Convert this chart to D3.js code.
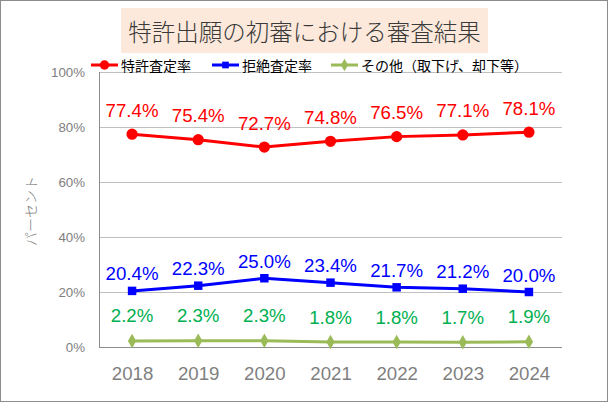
<!DOCTYPE html>
<html>
<head>
<meta charset="utf-8">
<script src="https://cdn.jsdelivr.net/npm/d3@7"></script>
<style>
  body { margin: 0; background: #fff; }
  svg { display: block; }
</style>
</head>
<body>
<div id="vis"></div>
<script>
// chart data
const years = ['2018', '2019', '2020', '2021', '2022', '2023', '2024']
const grantRate = [77.4, 75.4, 72.7, 74.8, 76.5, 77.1, 78.1]
const rejectRate = [20.4, 22.3, 25.0, 23.4, 21.7, 21.2, 20.0]
const otherRate = [2.2, 2.3, 2.3, 1.8, 1.8, 1.7, 1.9]
const yTicks = [0, 20, 40, 60, 80, 100]
const seriesNames = ['特許査定率', '拒絶査定率', 'その他（取下げ、却下等）']

const W = 609, H = 403
const margin = { top: 72, right: 47, bottom: 56, left: 99 }
const width = W - margin.left - margin.right   // 463
const height = H - margin.top - margin.bottom  // 275

const jp = '"Noto Sans CJK JP", "Noto Sans", sans-serif'
const num = '"Liberation Sans", Arial, sans-serif'

const root = d3.select('#vis').append('svg')
    .attr('width', W)
    .attr('height', H)

// outer border
root.append('rect')
    .attr('x', 0.5).attr('y', 0.5)
    .attr('width', 607).attr('height', 401)
    .attr('fill', '#fff')
    .attr('stroke', '#8c8c8c')

// title box
root.append('rect')
    .attr('x', 121).attr('y', 8)
    .attr('width', 367).attr('height', 45)
    .attr('fill', '#fce9db')
root.append('text')
    .attr('x', 304.5).attr('y', 31)
    .attr('text-anchor', 'middle')
    .attr('dominant-baseline', 'central')
    .style('font-family', jp)
    .style('font-size', '23.5px')
    .style('font-weight', 300)
    .style('fill', '#3a3a3a')
    .text('特許出願の初審における審査結果')

const svg = root.append('g')
    .attr('transform', `translate(${margin.left},${margin.top})`)

const xScale = d3.scalePoint()
    .domain(years)
    .range([0, width])
    .padding(0.5)

const yScale = d3.scaleLinear()
    .domain([0, 100])
    .range([height, 0])

// gridlines
svg.selectAll('.grid')
    .data(yTicks.filter(d => d > 0))
    .join('line')
    .attr('class', 'grid')
    .attr('x1', 0).attr('x2', width)
    .attr('y1', d => Math.round(yScale(d)) + 0.5)
    .attr('y2', d => Math.round(yScale(d)) + 0.5)
    .attr('stroke', '#c0c0c0')
    .attr('stroke-width', 1)

// y axis
const yAxis = d3.axisLeft(yScale)
    .tickValues(yTicks)
    .tickSize(0)
    .tickPadding(14)
    .tickFormat(d => d + '%')
svg.append('g')
    .call(yAxis)
    .call(g => g.select('.domain').remove())
    .call(g => g.selectAll('text')
        .style('font-family', num)
        .style('font-size', '13.3px')
        .style('fill', '#808080'))

// x axis
const xAxis = d3.axisBottom(xScale).tickSize(0).tickPadding(20)
svg.append('g')
    .attr('transform', `translate(0,${height})`)
    .call(xAxis)
    .call(g => g.select('.domain').remove())
    .call(g => g.selectAll('text')
        .style('font-family', num)
        .style('font-size', '18.67px')
        .style('fill', '#7f7f7f'))

// axis lines
svg.append('line')
    .attr('x1', 0.5).attr('x2', 0.5)
    .attr('y1', 0).attr('y2', height)
    .attr('stroke', '#8c8c8c')
svg.append('line')
    .attr('x1', 0).attr('x2', width)
    .attr('y1', height + 0.5).attr('y2', height + 0.5)
    .attr('stroke', '#8c8c8c')

// y axis title
root.append('text')
    .attr('transform', 'translate(30,211) rotate(-90)')
    .attr('text-anchor', 'middle')
    .attr('dominant-baseline', 'central')
    .style('font-family', jp)
    .style('font-size', '14px')
    .style('font-weight', 300)
    .style('fill', '#808080')
    .text('パーセント')

const series = [
    { name: seriesNames[0], values: grantRate, color: '#ff0000', label: '#ff0000', shape: 'circle', dy: -24 },
    { name: seriesNames[1], values: rejectRate, color: '#0000ff', label: '#0000ff', shape: 'square', dy: -17 },
    { name: seriesNames[2], values: otherRate, color: '#9bbb59', label: '#00b050', shape: 'diamond', dy: -25 }
]

const symbolFor = {
    circle: d3.symbol(d3.symbolCircle, 100),
    square: d3.symbol(d3.symbolSquare, 72),
    diamond: d3.symbol(d3.symbolDiamond, 60)
}

const line = d3.line()
    .x(d => xScale(d.year))
    .y(d => yScale(d.v))

series.forEach(s => {
    const pts = years.map((y, i) => ({ year: y, v: s.values[i] }))
    svg.append('path')
        .datum(pts)
        .attr('d', line)
        .attr('fill', 'none')
        .attr('stroke', s.color)
        .attr('stroke-width', 3)
        .attr('stroke-linejoin', 'round')

    svg.selectAll(null)
        .data(pts)
        .join('path')
        .attr('d', symbolFor[s.shape])
        .attr('transform', d => `translate(${xScale(d.year)},${yScale(d.v)})`)
        .attr('fill', s.color)

    svg.selectAll(null)
        .data(pts)
        .join('text')
        .attr('x', d => xScale(d.year))
        .attr('y', d => yScale(d.v) + s.dy)
        .attr('text-anchor', 'middle')
        .attr('dominant-baseline', 'central')
        .style('font-family', num)
        .style('font-size', '18.67px')
        .style('fill', s.label)
        .text(d => d.v.toFixed(1) + '%')
})

// legend
const legendX = [91, 212, 331]
const legend = root.selectAll('.legend')
    .data(series)
    .join('g')
    .attr('class', 'legend')
    .attr('transform', (d, i) => `translate(${legendX[i]},65)`)
legend.append('line')
    .attr('x1', 0).attr('x2', 27)
    .attr('stroke', d => d.color)
    .attr('stroke-width', 3)
legend.append('path')
    .attr('d', d => d3.symbol(d.shape === 'circle' ? d3.symbolCircle : d.shape === 'square' ? d3.symbolSquare : d3.symbolDiamond, d.shape === 'circle' ? 70 : 45)())
    .attr('transform', 'translate(13.5,0)')
    .attr('fill', d => d.color)
legend.append('text')
    .attr('x', 30)
    .attr('dominant-baseline', 'central')
    .style('font-family', jp)
    .style('font-size', '14px')
    .style('fill', '#000')
    .text(d => d.name)
</script>
</body>
</html>
